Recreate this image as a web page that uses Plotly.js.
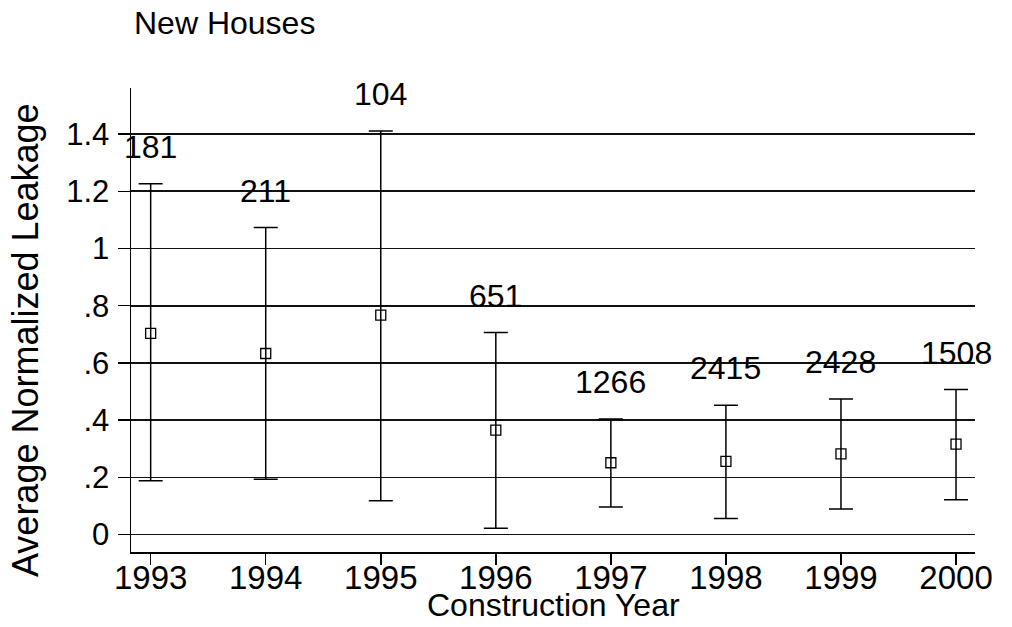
<!DOCTYPE html>
<html>
<head>
<meta charset="utf-8">
<script src="https://cdn.plot.ly/plotly-3.0.1.min.js"></script>
<style>html,body{margin:0;padding:0;background:#fff;}#chart{width:1012px;height:627px;}</style>
</head>
<body>
<div id="chart"></div>
<script>
// Data
const years = [1993, 1994, 1995, 1996, 1997, 1998, 1999, 2000];
const meanLeakage = [0.703, 0.633, 0.767, 0.365, 0.251, 0.256, 0.282, 0.316];
const upperBound = [1.226, 1.073, 1.411, 0.706, 0.404, 0.452, 0.474, 0.507];
const lowerBound = [0.188, 0.193, 0.118, 0.022, 0.096, 0.056, 0.089, 0.122];
const sampleCounts = ['181', '211', '104', '651', '1266', '2415', '2428', '1508'];
const yTickVals = [0, 0.2, 0.4, 0.6, 0.8, 1, 1.2, 1.4];
const yTickText = ['0', '.2', '.4', '.6', '.8', '1', '1.2', '1.4'];

const FONT = '"Liberation Sans", Arial, Helvetica, sans-serif';

// plot area in pixels: x 131..975, y 88..552
const PLOT_TOP = 88, PLOT_BOTTOM = 552, PLOT_LEFT = 131, PLOT_RIGHT = 975;
const px2paperX = px => (px - PLOT_LEFT) / (PLOT_RIGHT - PLOT_LEFT);
const px2paperY = py => (PLOT_BOTTOM - py) / (PLOT_BOTTOM - PLOT_TOP);

const trace = {
  type: 'scatter',
  mode: 'markers',
  x: years,
  y: meanLeakage,
  marker: {symbol: 'square-open', size: 10, color: '#000', line: {width: 1.3, color: '#000'}},
  error_y: {
    type: 'data',
    symmetric: false,
    array: upperBound.map((u, i) => u - meanLeakage[i]),
    arrayminus: lowerBound.map((l, i) => meanLeakage[i] - l),
    color: '#000',
    thickness: 1.5,
    width: 12
  },
  hoverinfo: 'x+y'
};

const countLabels = years.map((yr, i) => ({
  x: yr, y: upperBound[i], xref: 'x', yref: 'y',
  text: sampleCounts[i], showarrow: false,
  yanchor: 'middle', xanchor: 'center', yshift: 37,
  font: {family: FONT, size: 32, color: '#000'}
}));

const layout = {
  width: 1012, height: 627,
  margin: {l: PLOT_LEFT, r: 1012 - PLOT_RIGHT, t: PLOT_TOP, b: 627 - PLOT_BOTTOM, pad: 0},
  paper_bgcolor: '#fff', plot_bgcolor: '#fff',
  showlegend: false,
  font: {family: FONT, color: '#000'},
  title: {
    text: 'New Houses',
    font: {family: FONT, size: 32, color: '#000'},
    xref: 'container', yref: 'container',
    x: 134 / 1012, xanchor: 'left',
    y: 1 - 23 / 627, yanchor: 'middle'
  },
  xaxis: {
    range: [1992.829, 2000.165],
    tickvals: years,
    ticktext: years.map(String),
    ticks: 'outside', ticklen: 11, tickwidth: 1.5, tickcolor: '#000',
    ticklabelstandoff: -15,
    showline: true, linecolor: '#000', linewidth: 1.5,
    showgrid: false, zeroline: false,
    tickfont: {family: FONT, size: 33, color: '#000'},
    fixedrange: true
  },
  yaxis: {
    range: [-0.0609, 1.561],
    tickvals: yTickVals,
    ticktext: yTickText,
    ticks: 'outside', ticklen: 12, tickwidth: 1.5, tickcolor: '#000',
    ticklabelstandoff: 2,
    showline: true, linecolor: '#000', linewidth: 1.5,
    showgrid: true, gridcolor: '#111', gridwidth: 1.6,
    zeroline: false,
    tickfont: {family: FONT, size: 31, color: '#000'},
    fixedrange: true
  },
  annotations: countLabels.concat([
    {
      text: 'Construction Year', showarrow: false,
      xref: 'paper', yref: 'paper', x: 0.5, y: px2paperY(605),
      xanchor: 'center', yanchor: 'middle',
      font: {family: FONT, size: 32, color: '#000'}
    },
    {
      text: 'Average Normalized Leakage', showarrow: false, textangle: -90,
      xref: 'paper', yref: 'paper', x: px2paperX(25), y: px2paperY(340),
      xanchor: 'center', yanchor: 'middle',
      font: {family: FONT, size: 36, color: '#000'}
    }
  ])
};

Plotly.newPlot('chart', [trace], layout, {displayModeBar: false, staticPlot: true});
</script>
</body>
</html>
